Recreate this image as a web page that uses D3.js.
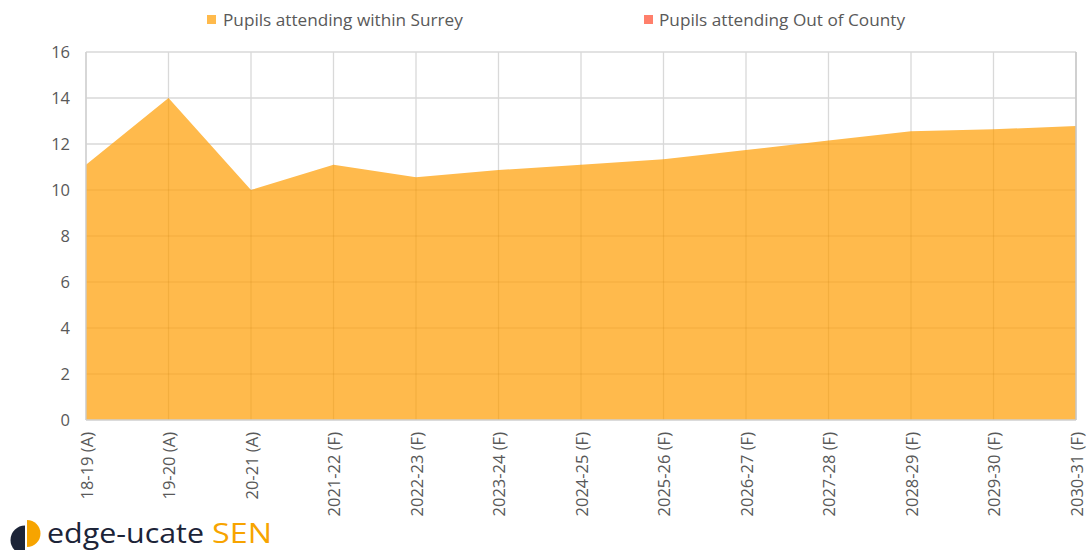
<!DOCTYPE html>
<html>
<head>
<meta charset="utf-8">
<script src="https://cdn.jsdelivr.net/npm/d3@7"></script>
<style>
  html, body { margin: 0; padding: 0; background: #fff; }
  svg { display: block; }
  text { font-family: "Open Sans", "Liberation Sans", sans-serif; }
</style>
</head>
<body>
<svg id="chart" width="1089" height="550"></svg>
<script>
const categories = ["18-19 (A)", "19-20 (A)", "20-21 (A)", "2021-22 (F)", "2022-23 (F)", "2023-24 (F)",
  "2024-25 (F)", "2025-26 (F)", "2026-27 (F)", "2027-28 (F)", "2028-29 (F)", "2029-30 (F)", "2030-31 (F)"];
const withinSurrey = [11.1, 14.0, 10.0, 11.1, 10.55, 10.87, 11.1, 11.34, 11.74, 12.15, 12.55, 12.64, 12.78];
const outOfCounty = [0, 0, 0, 0, 0, 0, 0, 0, 0, 0, 0, 0, 0];
const yTicks = [0, 2, 4, 6, 8, 10, 12, 14, 16];
const seriesNames = ["Pupils attending within Surrey", "Pupils attending Out of County"];
const seriesColors = ["#FFBA4C", "#FF7F6B"];

const svg = d3.select("#chart");
const pLeft = 86, pRight = 1076, pTop = 52, pBottom = 420;

const x = d3.scalePoint().domain(categories).range([pLeft, pRight]);
const y = d3.scaleLinear().domain([0, 16]).range([pBottom, pTop]);

// gridlines
const gridG = svg.append("g");
gridG.selectAll("line.h").data(yTicks.slice(1)).join("line")
  .attr("x1", pLeft).attr("x2", pRight)
  .attr("y1", d => y(d)).attr("y2", d => y(d))
  .attr("stroke", "#d9d9d9").attr("stroke-width", 1.3);
gridG.selectAll("line.v").data(categories).join("line")
  .attr("x1", d => x(d)).attr("x2", d => x(d))
  .attr("y1", pTop).attr("y2", pBottom)
  .attr("stroke", "#d9d9d9").attr("stroke-width", 1.3);

// stacked areas
const rows = categories.map((c, i) => ({ cat: c, s0: withinSurrey[i], s1: outOfCounty[i] }));
const stacked = d3.stack().keys(["s0", "s1"])(rows);
const area = d3.area()
  .x(d => x(d.data.cat))
  .y0(d => y(d[0]))
  .y1(d => y(d[1]));
svg.append("defs").append("clipPath").attr("id", "areaClip")
  .append("path").attr("d", area(stacked[0]));
svg.append("g").selectAll("path").data(stacked).join("path")
  .attr("d", area)
  .attr("fill", (d, i) => seriesColors[i]);

// faint gridlines through area
const overG = svg.append("g").attr("clip-path", "url(#areaClip)");
overG.selectAll("line.h").data(yTicks.slice(1)).join("line")
  .attr("x1", pLeft).attr("x2", pRight)
  .attr("y1", d => y(d)).attr("y2", d => y(d))
  .attr("stroke", "rgba(200,130,20,0.22)").attr("stroke-width", 1.2);
overG.selectAll("line.v").data(categories).join("line")
  .attr("x1", d => x(d)).attr("x2", d => x(d))
  .attr("y1", pTop).attr("y2", pBottom)
  .attr("stroke", "rgba(200,130,20,0.22)").attr("stroke-width", 1.2);

// axis lines
svg.append("line").attr("x1", pLeft).attr("x2", pRight).attr("y1", pBottom).attr("y2", pBottom)
  .attr("stroke", "#cfcfcf").attr("stroke-width", 1.3);
svg.append("line").attr("x1", pLeft).attr("x2", pLeft).attr("y1", pTop).attr("y2", pBottom)
  .attr("stroke", "#cfcfcf").attr("stroke-width", 1.3);
svg.append("line").attr("x1", pRight).attr("x2", pRight).attr("y1", pTop).attr("y2", pBottom)
  .attr("stroke", "#c8c8c8").attr("stroke-width", 1.5);

// y axis
const yAxis = d3.axisLeft(y).tickValues(yTicks).tickSize(0).tickPadding(16);
const yg = svg.append("g").attr("transform", `translate(${pLeft},0)`).call(yAxis);
yg.select(".domain").remove();
yg.selectAll("text").attr("fill", "#595959").style("font-size", "16.5px");

// x axis
const xAxis = d3.axisBottom(x).tickSize(0).tickPadding(0);
const xg = svg.append("g").attr("transform", `translate(0,${pBottom})`).call(xAxis);
xg.select(".domain").remove();
xg.selectAll("text")
  .attr("fill", "#595959").style("font-size", "16.5px")
  .attr("text-anchor", "end")
  .attr("dy", null).attr("y", 0)
  .attr("transform", "translate(6,12) rotate(-90)");

// legend
const legendPos = [{ sx: 207, tx: 223 }, { sx: 644, tx: 659 }];
const lg = svg.append("g");
seriesNames.forEach((n, i) => {
  lg.append("rect").attr("x", legendPos[i].sx).attr("y", 15).attr("width", 9).attr("height", 9)
    .attr("fill", seriesColors[i]);
  lg.append("text").attr("x", legendPos[i].tx).attr("y", 26)
    .attr("fill", "#595959").style("font-size", "17.2px").text(n);
});

// logo
const logo = svg.append("g");
logo.append("path").attr("d", "M25,525.5 A14.5,14.5 0 0,0 25,554.5 Z").attr("fill", "#1c2438");
logo.append("path").attr("d", "M27,520 A13.5,13.5 0 0,1 27,547 Z").attr("fill", "#F7A400");
logo.append("text").attr("x", 47).attr("y", 543).style("font-size", "27px")
  .attr("fill", "#1c2438").attr("textLength", 157).attr("lengthAdjust", "spacingAndGlyphs")
  .text("edge-ucate");
logo.append("text").attr("x", 212).attr("y", 543).style("font-size", "27px")
  .attr("fill", "#F7A400").attr("textLength", 60).attr("lengthAdjust", "spacingAndGlyphs")
  .text("SEN");
</script>
</body>
</html>
